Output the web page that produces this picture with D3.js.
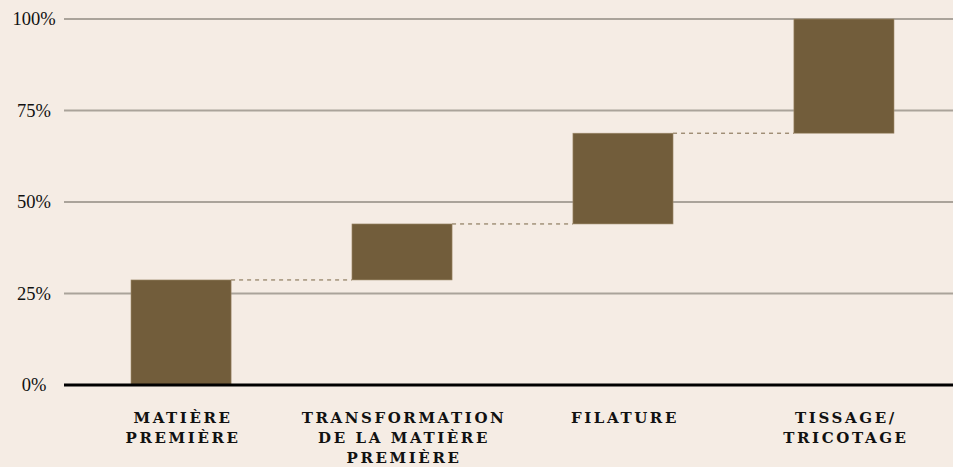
<!DOCTYPE html>
<html>
<head>
<meta charset="utf-8">
<script src="https://cdn.jsdelivr.net/npm/d3@7"></script>
<style>
  body { margin: 0; background: #f5ece4; }
  svg { display: block; }
</style>
</head>
<body>
<div id="chart"></div>
<script>
// waterfall: cumulative share of each step
var categories = ["MATIÈRE PREMIÈRE", "TRANSFORMATION DE LA MATIÈRE PREMIÈRE", "FILATURE", "TISSAGE/ TRICOTAGE"];
var labelLines = [["MATIÈRE", "PREMIÈRE"], ["TRANSFORMATION", "DE LA MATIÈRE", "PREMIÈRE"], ["FILATURE"], ["TISSAGE/", "TRICOTAGE"]];
var starts = [0, 28.7, 44.0, 68.8];
var ends = [28.7, 44.0, 68.8, 100];
var yTicks = [0, 25, 50, 75, 100];
var yTickLabels = ["0%", "25%", "50%", "75%", "100%"];

var width = 953, height = 467;

var svg = d3.select("#chart")
            .append("svg")
            .attr("width", width)
            .attr("height", height);

svg.append("rect")
   .attr("width", width)
   .attr("height", height)
   .attr("fill", "#f5ece4");

var x = d3.scaleBand()
          .domain(categories)
          .range([131, 894])
          .paddingInner(0.547)
          .paddingOuter(0);

var y = d3.scaleLinear()
          .domain([0, 100])
          .range([385, 19]);

// gridlines
svg.selectAll("line.grid")
   .data(yTicks.slice(1))
   .enter()
     .append("line")
     .attr("class", "grid")
     .attr("x1", 64)
     .attr("x2", width)
     .attr("y1", function (d) { return y(d); })
     .attr("y2", function (d) { return y(d); })
     .attr("stroke", "#aaa39a")
     .attr("stroke-width", 2);

// y labels
svg.selectAll("text.ylab")
   .data(yTicks)
   .enter()
     .append("text")
     .attr("class", "ylab")
     .attr("x", 34)
     .attr("y", function (d) { return y(d); })
     .attr("dy", "0.35em")
     .attr("text-anchor", "middle")
     .style("font-family", "'Liberation Serif', serif")
     .style("font-size", "18.5px")
     .attr("fill", "#111")
     .text(function (d, i) { return yTickLabels[i]; });

// connectors
svg.selectAll("line.conn")
   .data(categories.slice(0, -1))
   .enter()
     .append("line")
     .attr("class", "conn")
     .attr("x1", function (d) { return x(d) + x.bandwidth(); })
     .attr("x2", function (d, i) { return x(categories[i + 1]); })
     .attr("y1", function (d, i) { return y(ends[i]); })
     .attr("y2", function (d, i) { return y(ends[i]); })
     .attr("stroke", "#7a6545")
     .attr("stroke-width", 1)
     .attr("stroke-dasharray", "4,4");

// bars
svg.selectAll("rect.bar")
   .data(categories)
   .enter()
     .append("rect")
     .attr("class", "bar")
     .attr("x", function (d) { return x(d); })
     .attr("width", x.bandwidth())
     .attr("y", function (d, i) { return y(ends[i]); })
     .attr("height", function (d, i) { return y(starts[i]) - y(ends[i]); })
     .attr("fill", "#725d3b")
     .attr("stroke", "#a08c6c")
     .attr("stroke-width", 0.6);

// baseline
svg.append("line")
   .attr("x1", 64)
   .attr("x2", width)
   .attr("y1", y(0))
   .attr("y2", y(0))
   .attr("stroke", "#000")
   .attr("stroke-width", 3);

// category labels
var labels = svg.selectAll("text.xlab")
   .data(categories)
   .enter()
     .append("text")
     .attr("class", "xlab")
     .attr("text-anchor", "middle")
     .attr("font-family", "DejaVu Serif")
     .attr("font-weight", "900")
     .attr("font-size", 15)
     .attr("letter-spacing", 2.6)
     .attr("fill", "#111");

labels.selectAll("tspan")
   .data(function (d, i) { return labelLines[i].map(function (t) { return { t: t, c: d }; }); })
   .enter()
     .append("tspan")
     .attr("x", function (d) { return x(d.c) + x.bandwidth() / 2 + 2; })
     .attr("y", function (d, j) { return 422.5 + j * 20; })
     .text(function (d) { return d.t; });
</script>
</body>
</html>
